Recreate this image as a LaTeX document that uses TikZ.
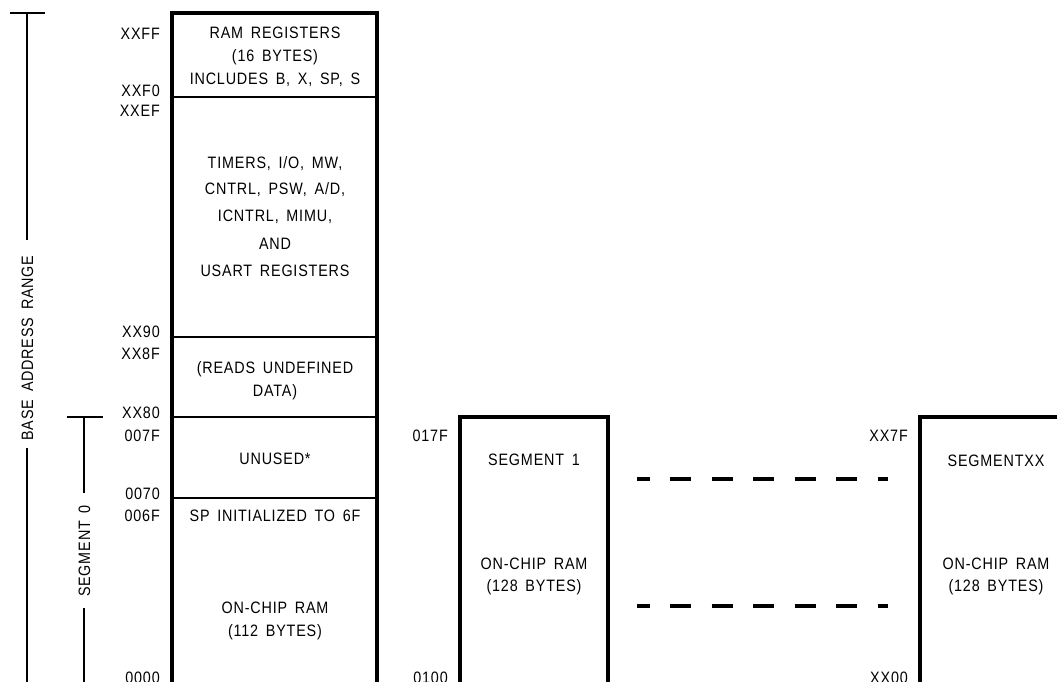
\documentclass[tikz,border=0pt]{standalone}
\usepackage{fontspec}
\setmainfont{Liberation Sans}[FakeStretch=0.87,LetterSpace=5,WordSpace=1.6]
\begin{document}
\begin{tikzpicture}[x=1pt,y=-1pt,
  lbl/.style={inner sep=0pt,text height=12pt,text depth=0pt,font=\fontsize{16.5}{19}\selectfont},
  addr/.style={lbl,anchor=east},
  thick box/.style={line width=4pt,line join=miter},
  divider/.style={line width=2.6pt},
  bracket/.style={line width=1.3pt},
  dotsline/.style={line width=3.5pt,dash pattern=on 21pt off 20.5pt,dash phase=8.5pt}]
\useasboundingbox (0,0) rectangle (1057,681);
\begin{scope}
\clip (0,0) rectangle (1057,681);
% main column
\draw[thick box] (172,690) -- (172,13) -- (377,13) -- (377,690);
\draw[divider] (172,97) -- (377,97);
\draw[divider] (172,337) -- (377,337);
\draw[divider] (172,417) -- (377,417);
\draw[divider] (172,498) -- (377,498);
% segment 1
\draw[thick box] (460,690) -- (460,417) -- (608,417) -- (608,690);
% segment xx
\draw[thick box] (920,690) -- (920,417) -- (1070,417);
% dashed continuation
\coordinate (d1a) at (637,479); \coordinate (d1b) at (888,479);
\coordinate (d2a) at (637,606); \coordinate (d2b) at (888,606);
\draw[dotsline] (d1a) -- (d1b);
\draw[dotsline] (d2a) -- (d2b);
% base address range bracket
\draw[bracket] (10,13) -- (45,13);
\draw[bracket] (27,13) -- (27,240);
\node[lbl,rotate=90] (base) at (27,348) {BASE ADDRESS RANGE};
\draw[bracket] (27,448) -- (27,690);
% segment 0 bracket
\draw[bracket] (67,417) -- (103,417);
\draw[bracket] (84,417) -- (84,493);
\node[lbl,rotate=90] (seg0) at (84,551) {SEGMENT 0};
\draw[bracket] (84,608) -- (84,690);
% addresses
\node[addr] (aFF) at (160,33) {XXFF};
\node[addr] (aF0) at (160,90) {XXF0};
\node[addr] (aEF) at (160,110) {XXEF};
\node[addr] (a90) at (160,331) {XX90};
\node[addr] (a8F) at (160,353) {XX8F};
\node[addr] (a80) at (160,412) {XX80};
\node[addr] (a7F) at (160,435) {007F};
\node[addr] (a70) at (160,493) {0070};
\node[addr] (a6F) at (160,515) {006F};
\node[addr] (a00) at (160,677) {0000};
\node[addr] (s17F) at (448,435) {017F};
\node[addr] (s100) at (448,677) {0100};
\node[addr] (sx7F) at (908,435) {XX7F};
\node[addr] (sx00) at (908,677) {XX00};
% main column texts
\node[lbl] (t1) at (275,32) {RAM REGISTERS};
\node[lbl] (t2) at (275,55) {(16 BYTES)};
\node[lbl] (t3) at (275,78) {INCLUDES B, X, SP, S};
\node[lbl] (t4) at (275,162) {TIMERS, I/O, MW,};
\node[lbl] (t5) at (275,188) {CNTRL, PSW, A/D,};
\node[lbl] (t6) at (275,215) {ICNTRL, MIMU,};
\node[lbl] (t7) at (275,243) {AND};
\node[lbl] (t8) at (275,270) {USART REGISTERS};
\node[lbl] (t9) at (275,367) {(READS UNDEFINED};
\node[lbl] (t10) at (275,390) {DATA)};
\node[lbl] (t11) at (275,458) {UNUSED*};
\node[lbl] (t12) at (275,515) {SP INITIALIZED TO 6F};
\node[lbl] (t13) at (275,607) {ON-CHIP RAM};
\node[lbl] (t14) at (275,630) {(112 BYTES)};
% segment 1 texts
\node[lbl] (u1) at (534,459) {SEGMENT 1};
\node[lbl] (u2) at (534,563) {ON-CHIP RAM};
\node[lbl] (u3) at (534,585) {(128 BYTES)};
% segment xx texts
\node[lbl] (v1) at (996,460) {SEGMENTXX};
\node[lbl] (v2) at (996,563) {ON-CHIP RAM};
\node[lbl] (v3) at (996,585) {(128 BYTES)};
\end{scope}
\end{tikzpicture}
\end{document}
